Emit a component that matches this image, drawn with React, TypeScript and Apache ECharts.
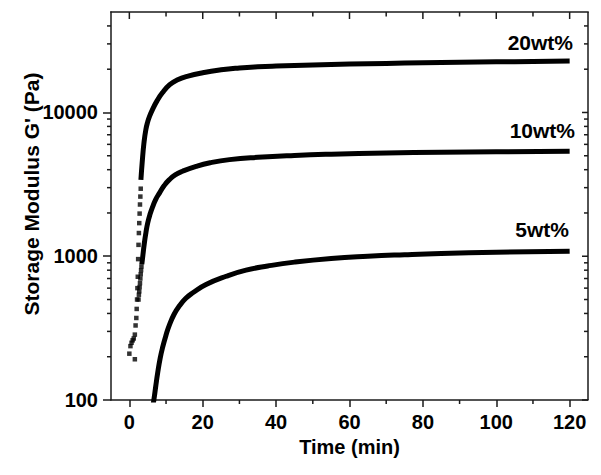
import React, { useEffect, useRef } from "react";
import * as echarts from "echarts";

const FONT = '"Liberation Sans", Arial, Helvetica, sans-serif';
const AXIS_COLOR = "#1a1a1a";

// Tick positions
const xMajorTicks = [0, 20, 40, 60, 80, 100, 120];
const xMinorTicks = [10, 30, 50, 70, 90, 110];
const yMajorTicks = [100, 1000, 10000];
const yMinorTicks = [200, 300, 400, 500, 600, 700, 800, 900, 2000, 3000, 4000, 5000, 6000, 7000, 8000, 9000, 20000, 30000, 40000];

// 20wt% — early discrete points and continuous part
const t20Dots = [0, 0.3, 0.6, 0.9, 1.2, 1.5, 1.5, 1.7, 1.9, 2.0, 2.1, 2.2, 2.3, 2.4, 2.5, 2.6, 2.7, 2.8, 2.9, 3.0, 3.1];
const g20Dots = [210, 237, 250, 260, 268, 192, 285, 330, 372, 430, 500, 600, 720, 955, 1200, 1450, 1700, 1980, 2290, 2600, 2950];
const t20 = [3.15, 3.5, 4.0, 4.5, 5.0, 5.5, 6.4, 7.5, 9, 11, 13, 16, 20, 25, 30, 35, 40, 50, 60, 70, 80, 90, 100, 110, 120];
const g20 = [3400, 4500, 6200, 7600, 8600, 9400, 10600, 12000, 13700, 15600, 16800, 17900, 18900, 19800, 20400, 20800, 21050, 21400, 21700, 21950, 22150, 22350, 22500, 22650, 22800];

// 10wt%
const t10Dots = [2.5, 2.6, 2.7, 2.8, 2.9, 3.0, 3.1, 3.2, 3.3];
const g10Dots = [500, 540, 570, 610, 650, 700, 750, 800, 850];
const t10 = [3.4, 3.7, 4.1, 4.5, 5.0, 5.7, 6.4, 7.2, 8.2, 9.5, 10.9, 12.5, 14.5, 18.2, 22, 27.3, 35, 45, 55, 70, 85, 100, 120];
const g10 = [880, 1020, 1240, 1450, 1705, 1980, 2225, 2490, 2750, 3100, 3410, 3680, 3900, 4220, 4470, 4700, 4880, 5030, 5130, 5230, 5290, 5330, 5365];

// 5wt%
const t5 = [6.4, 6.8, 7.2, 7.7, 8.4, 9.1, 10, 10.9, 12.2, 13.6, 15.4, 17.3, 20.9, 26.4, 31.8, 37.7, 45, 55, 65, 75, 85, 100, 120];
const g5 = [90, 105, 125, 153, 195, 234, 283, 332, 395, 450, 510, 557, 636, 726, 800, 855, 910, 965, 1000, 1025, 1045, 1065, 1085];

const seriesNames = ["20wt%", "10wt%", "5wt%"];

const zip = (t: number[], g: number[]) => t.map((v, i) => [v, g[i]]);

const X_MIN = -5;
const X_MAX = 125;
const Y_MIN = 100;
const Y_MAX = 50000;

const labelStyle = {
  color: "#000",
  fontSize: 20,
  fontWeight: "bold" as const,
  fontFamily: FONT,
};

export default function App() {
  const ref = useRef<HTMLDivElement>(null);

  useEffect(() => {
    document.body.style.margin = "0";
    if (!ref.current) return;
    const chart = echarts.init(ref.current, null, { renderer: "svg" });

    const lineSeries = (name: string, data: number[][]) => ({
      name,
      type: "line",
      data,
      symbol: "none",
      smooth: 0.5,
      lineStyle: { color: "#000", width: 5, cap: "butt", join: "round" },
      silent: true,
      clip: true,
      z: 2,
    });
    const dotSeries = (name: string, data: number[][]) => ({
      name,
      type: "scatter",
      data,
      symbol: "rect",
      symbolSize: 4.5,
      itemStyle: { color: "#000" },
      silent: true,
      clip: true,
      z: 3,
    });

    const seriesLabel = (text: string, x: number, y: number) => ({
      type: "text",
      x,
      y,
      style: {
        text,
        fill: "#000",
        font: `bold 21px ${FONT}`,
        align: "right",
        verticalAlign: "middle",
        textAlign: "right",
        textVerticalAlign: "middle",
      },
    });

    const textGraphics: any[] = [
      {
        type: "text",
        x: 31,
        y: 194,
        rotation: Math.PI / 2,
        style: {
          text: "Storage Modulus G' (Pa)",
          fill: "#000",
          font: `bold 21px ${FONT}`,
          align: "center",
          verticalAlign: "middle",
          textAlign: "center",
          textVerticalAlign: "middle",
        },
      },
      seriesLabel(seriesNames[0], 573, 42.5),
      seriesLabel(seriesNames[1], 575, 130),
      seriesLabel(seriesNames[2], 569, 229.5),
    ];

    chart.setOption({
      animation: false,
      backgroundColor: "#fff",
      grid: { left: 111, right: 13, top: 12, bottom: 75 },
      xAxis: {
        type: "value",
        min: X_MIN,
        max: X_MAX,
        axisLine: { show: true, onZero: false, lineStyle: { color: AXIS_COLOR, width: 1.5 } },
        axisTick: { show: true, inside: false, length: 7, customValues: xMajorTicks, lineStyle: { color: AXIS_COLOR, width: 1.5 } },
        axisLabel: { show: true, customValues: xMajorTicks, margin: 12, ...labelStyle },
        splitLine: { show: false },
        name: "Time (min)",
        nameLocation: "middle",
        nameGap: 37,
        nameTextStyle: { ...labelStyle },
      },
      yAxis: {
        type: "log",
        logBase: 10,
        min: Y_MIN,
        max: Y_MAX,
        axisLine: { show: true, onZero: false, lineStyle: { color: AXIS_COLOR, width: 1.5 } },
        axisTick: { show: true, inside: false, length: 8, customValues: yMajorTicks, lineStyle: { color: AXIS_COLOR, width: 1.5 } },
        axisLabel: { show: true, customValues: yMajorTicks, margin: 13, formatter: (v: number) => String(Math.round(v)), ...labelStyle },
        splitLine: { show: false },
        minorTick: { show: false },
      },
      series: [
        dotSeries(seriesNames[0], zip(t20Dots, g20Dots)),
        lineSeries(seriesNames[0], zip(t20, g20)),
        dotSeries(seriesNames[1], zip(t10Dots, g10Dots)),
        lineSeries(seriesNames[1], zip(t10, g10)),
        lineSeries(seriesNames[2], zip(t5, g5)),
      ],
      graphic: textGraphics,
    });

    // Frame, minor ticks and mirrored (top / right) ticks, positioned through the axes' scales
    const toX = (v: number) => chart.convertToPixel({ xAxisIndex: 0 }, v) as number;
    const toY = (v: number) => chart.convertToPixel({ yAxisIndex: 0 }, v) as number;
    const left = toX(X_MIN);
    const right = toX(X_MAX);
    const bottom = toY(Y_MIN);
    const top = toY(Y_MAX);
    const seg = (x1: number, y1: number, x2: number, y2: number) => ({
      type: "line",
      shape: { x1, y1, x2, y2 },
      style: { stroke: AXIS_COLOR, lineWidth: 1.5 },
    });
    const frameGraphics: any[] = [
      seg(left - 0.75, top, right + 0.75, top),
      seg(right, top, right, bottom),
    ];
    const tickGraphics: any[] = [];
    xMajorTicks.forEach((v) => {
      const px = toX(v);
      tickGraphics.push(seg(px, top, px, top + 7));
    });
    xMinorTicks.forEach((v) => {
      const px = toX(v);
      tickGraphics.push(seg(px, top, px, top + 4.5));
      tickGraphics.push(seg(px, bottom, px, bottom + 4));
    });
    yMajorTicks.forEach((v) => {
      const py = toY(v);
      tickGraphics.push(seg(right, py, right - 6, py));
    });
    yMinorTicks.forEach((v) => {
      const py = toY(v);
      tickGraphics.push(seg(right, py, right - 4, py));
      tickGraphics.push(seg(left, py, left - 4, py));
    });

    chart.setOption({ graphic: [...textGraphics, ...frameGraphics, ...tickGraphics] });

    return () => chart.dispose();
  }, []);

  return <div ref={ref} style={{ width: 601, height: 475 }} />;
}
